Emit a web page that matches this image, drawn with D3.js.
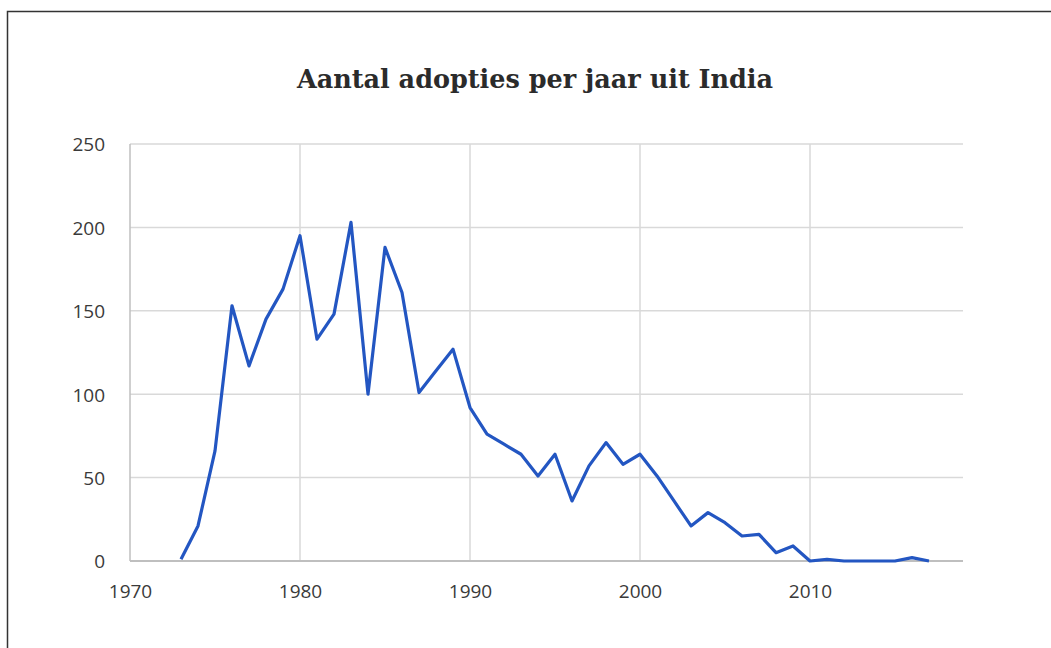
<!DOCTYPE html>
<html>
<head>
<meta charset="utf-8">
<script src="https://cdn.jsdelivr.net/npm/d3@7"></script>
<style>
  body { margin: 0; background: #fff; }
  svg { display: block; }
</style>
</head>
<body>
<script>
var years = [1973,1974,1975,1976,1977,1978,1979,1980,1981,1982,1983,1984,1985,1986,1987,1988,1989,
             1990,1991,1992,1993,1994,1995,1996,1997,1998,1999,2000,2001,2002,2003,2004,2005,2006,2007,
             2008,2009,2010,2011,2012,2013,2014,2015,2016,2017];
var adopties = [1,21,66,153,117,145,163,195,133,148,203,100,188,161,101,114,127,
                92,76,70,64,51,64,36,57,71,58,64,51,36,21,29,23,15,16,
                5,9,0,1,0,0,0,0,2,0];
var yTicks = [0,50,100,150,200,250];
var xTicks = [1970,1980,1990,2000,2010];
var title = "Aantal adopties per jaar uit India";

var W = 1051, H = 648;
var svg = d3.select("body").append("svg")
			.attr("width", W)
			.attr("height", H);

// frame
svg.append("path")
	.attr("d", "M7.5," + H + "V11.5H" + W)
	.attr("fill", "none")
	.attr("stroke", "#333")
	.attr("stroke-width", 1.5);

var x = d3.scaleLinear()
				.domain([1970, 2019])
				.range([130, 963]);

var y = d3.scaleLinear()
				.domain([0, 250])
				.range([561, 144]);

// horizontal grid
svg.append("g").selectAll("line")
	.data(yTicks.slice(1))
	.enter().append("line")
		.attr("x1", x(1970))
		.attr("x2", x(2019))
		.attr("y1", function(d){ return y(d); })
		.attr("y2", function(d){ return y(d); })
		.attr("stroke", "#d9d9d9")
		.attr("stroke-width", 1.5);

// vertical grid
svg.append("g").selectAll("line")
	.data(xTicks)
	.enter().append("line")
		.attr("x1", function(d){ return x(d); })
		.attr("x2", function(d){ return x(d); })
		.attr("y1", y(250))
		.attr("y2", y(0))
		.attr("stroke", function(d){ return d == 1970 ? "#bfbfbf" : "#d9d9d9"; })
		.attr("stroke-width", 1.5);

// baseline
svg.append("line")
	.attr("x1", x(1970))
	.attr("x2", x(2019))
	.attr("y1", y(0))
	.attr("y2", y(0))
	.attr("stroke", "#bfbfbf")
	.attr("stroke-width", 2);

var yAxis = d3.axisLeft(y).tickValues(yTicks).tickSize(0).tickPadding(0);
var xAxis = d3.axisBottom(x).tickValues(xTicks).tickFormat(d3.format("d")).tickSize(0).tickPadding(0);

var gy = svg.append("g")
		.attr("transform", "translate(105,0)")
		.call(yAxis);
var gx = svg.append("g")
		.attr("transform", "translate(0,584)")
		.call(xAxis);

[gy, gx].forEach(function(g){
	g.select(".domain").remove();
	g.selectAll("text")
		.attr("font-family", "'Open Sans', sans-serif")
		.attr("font-size", 19)
		.attr("fill", "#3a3a3a");
});
gy.selectAll("text").attr("dy", "0.36em");

var line = d3.line()
		.x(function(d,i){ return x(years[i]); })
		.y(function(d){ return y(d); });

svg.append("path")
	.datum(adopties)
	.attr("d", line)
	.attr("fill", "none")
	.attr("stroke", "#2356c2")
	.attr("stroke-width", 3.2)
	.attr("stroke-linejoin", "round");

svg.append("text")
	.attr("x", 535)
	.attr("y", 88)
	.attr("text-anchor", "middle")
	.attr("font-family", "'DejaVu Serif', serif")
	.attr("font-weight", "bold")
	.attr("font-size", 25.5)
	.attr("fill", "#2b2b2b")
	.text(title);
</script>
</body>
</html>
